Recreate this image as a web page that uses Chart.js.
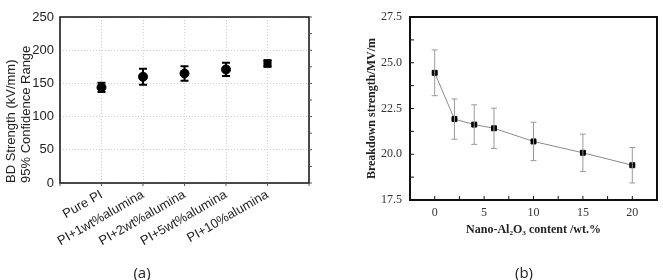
<!DOCTYPE html>
<html>
<head>
<meta charset="utf-8">
<script src="https://cdn.jsdelivr.net/npm/chart.js@4/dist/chart.umd.min.js"></script>
<style>
  html, body { margin: 0; padding: 0; background: #fff; }
  #wrap { position: relative; width: 663px; height: 280px; overflow: hidden; }
  canvas { position: absolute; top: 0; }
  #ca { left: 0; }
  #cb { left: 330px; }
  .cap { position: absolute; top: 262px; font: 15px "Open Sans", "Liberation Sans", sans-serif; color: #222; transform: translateX(-50%); }
</style>
</head>
<body>
<div id="wrap">
  <canvas id="ca" width="330" height="280"></canvas>
  <canvas id="cb" width="333" height="280"></canvas>
  <div class="cap" style="left:142px">(a)</div>
  <div class="cap" style="left:524px">(b)</div>
</div>
<script>
// ---------- data: panel (a) ----------
const catsA = ['Pure PI', 'PI+1wt%alumina', 'PI+2wt%alumina', 'PI+5wt%alumina', 'PI+10%alumina'];
const valsA = [144, 160, 165, 171, 180];
const errsA = [7, 12, 11, 10, 5];
const yTicksA = [0, 50, 100, 150, 200, 250];

// ---------- data: panel (b) ----------
const contentB = [0, 2, 4, 6, 10, 15, 20];
const valsB = [24.45, 21.92, 21.62, 21.42, 20.70, 20.08, 19.40];
const errsB = [1.25, 1.10, 1.08, 1.10, 1.05, 1.02, 0.97];
const xTickLabelsB = [0, 5, 10, 15, 20];
const yTickLabelsB = [17.5, 20.0, 22.5, 25.0, 27.5];

Chart.defaults.animation = false;

function errorBarPlugin(id, errs, color, width, cap) {
  return {
    id: id,
    afterDatasetsDraw(chart) {
      const ctx = chart.ctx, xs = chart.scales.x, ys = chart.scales.y;
      const data = chart.data.datasets[0].data;
      ctx.save();
      ctx.strokeStyle = color; ctx.lineWidth = width;
      data.forEach((p, i) => {
        const px = xs.getPixelForValue(p.x);
        const top = ys.getPixelForValue(p.y + errs[i]);
        const bot = ys.getPixelForValue(p.y - errs[i]);
        ctx.beginPath();
        ctx.moveTo(px, top); ctx.lineTo(px, bot);
        ctx.moveTo(px - cap, top); ctx.lineTo(px + cap, top);
        ctx.moveTo(px - cap, bot); ctx.lineTo(px + cap, bot);
        ctx.stroke();
      });
      ctx.restore();
    }
  };
}

function frameTicksPlugin(id, lw, tickLen, extra) {
  return {
    id: id,
    afterDraw(chart) {
      const ctx = chart.ctx, a = chart.chartArea;
      ctx.save();
      ctx.strokeStyle = '#111';
      ctx.lineWidth = lw;
      ctx.strokeRect(a.left, a.top, a.right - a.left, a.bottom - a.top);
      if (tickLen) {
        ctx.lineWidth = 1;
        ctx.beginPath();
        chart.scales.x.ticks.forEach(t => {
          const px = chart.scales.x.getPixelForValue(t.value);
          ctx.moveTo(px, a.bottom); ctx.lineTo(px, a.bottom - tickLen);
        });
        chart.scales.y.ticks.forEach(t => {
          const py = chart.scales.y.getPixelForValue(t.value);
          ctx.moveTo(a.left, py); ctx.lineTo(a.left + tickLen, py);
        });
        ctx.stroke();
      }
      if (extra) extra(chart, ctx, a);
      ctx.restore();
    }
  };
}

// ---------- panel (a) ----------
new Chart(document.getElementById('ca'), {
  type: 'scatter',
  data: {
    datasets: [{
      data: valsA.map((v, i) => ({ x: i + 1, y: v })),
      backgroundColor: '#000',
      borderColor: '#000',
      pointStyle: catsA.map((c, i) => i === catsA.length - 1 ? 'rect' : 'circle'),
      pointRadius: catsA.map((c, i) => i === catsA.length - 1 ? 5 : 4.5),
      showLine: false
    }]
  },
  options: {
    responsive: false,
    devicePixelRatio: 1,
    plugins: { legend: { display: false }, tooltip: { enabled: false } },
    layout: { padding: { top: 17, right: 21, left: 0, bottom: 0 } },
    scales: {
      x: {
        type: 'linear', min: 0, max: catsA.length + 1,
        afterFit(s) { s.height = 97; },
        ticks: {
          stepSize: 1, autoSkip: false, minRotation: 30, maxRotation: 30, padding: 4,
          color: '#222', font: { family: 'Liberation Sans, Arial, sans-serif', size: 13 },
          callback: v => catsA[v - 1] || ''
        },
        grid: { color: '#cfcfcf', lineWidth: 1, drawTicks: false },
        border: { display: false, dash: [1, 2] }
      },
      y: {
        min: 0, max: 250,
        afterFit(s) { s.width = 60; },
        afterBuildTicks(s) { s.ticks = yTicksA.map(v => ({ value: v })); },
        ticks: {
          padding: 6, color: '#222', font: { family: 'Liberation Sans, Arial, sans-serif', size: 13 }
        },
        grid: { color: '#cfcfcf', lineWidth: 1, drawTicks: false },
        border: { display: false, dash: [1, 2] },
        title: {
          display: true, align: 'start',
          text: ['BD Strength (kV/mm)', '95% Confidence Range'],
          color: '#222', font: { family: 'Liberation Sans, Arial, sans-serif', size: 13, lineHeight: 1.15 },
          padding: { top: 4, bottom: 0 }
        }
      }
    }
  },
  plugins: [
    errorBarPlugin('errA', errsA, '#000', 2, 4),
    frameTicksPlugin('frameA', 1.5, 0, (chart, ctx, a) => {
      const ys = chart.scales.y, xs = chart.scales.x;
      ctx.lineWidth = 1;
      ctx.strokeStyle = '#555';
      ctx.beginPath();
      for (let v = 0; v <= 250; v += 25) {
        const py = ys.getPixelForValue(v);
        ctx.moveTo(a.right, py); ctx.lineTo(a.right + 3, py);
      }
      xs.ticks.forEach(t => {
        const px = xs.getPixelForValue(t.value);
        ctx.moveTo(px, a.bottom); ctx.lineTo(px, a.bottom + 3);
      });
      ctx.stroke();
    })
  ]
});

// ---------- panel (b) ----------
const serif = 'Liberation Serif, "Times New Roman", serif';
new Chart(document.getElementById('cb'), {
  type: 'scatter',
  data: {
    datasets: [{
      data: contentB.map((c, i) => ({ x: c, y: valsB[i] })),
      showLine: true,
      borderColor: '#8a8a8a',
      borderWidth: 1,
      backgroundColor: '#000',
      pointBorderColor: '#000',
      pointStyle: 'rect',
      pointRadius: 3.5
    }]
  },
  options: {
    responsive: false,
    devicePixelRatio: 1,
    plugins: { legend: { display: false }, tooltip: { enabled: false } },
    layout: { padding: { top: 17, right: 3, left: 0, bottom: 40 } },
    scales: {
      x: {
        type: 'linear', min: -2.5, max: 22.5,
        afterFit(s) { s.height = 40; },
        ticks: {
          stepSize: 2.5, autoSkip: false, maxRotation: 0, padding: 6,
          color: '#333', font: { family: serif, size: 12 },
          callback: v => xTickLabelsB.includes(v) ? String(v) : ''
        },
        grid: { display: false, drawTicks: false },
        border: { display: false },
        title: {
          display: true, text: 'Nano-Al₂O₃ content /wt.%',
          color: '#222', font: { family: serif, size: 12, weight: 'bold' },
          padding: { top: 0, bottom: 3 }
        }
      },
      y: {
        min: 17.5, max: 27.5,
        afterFit(s) { s.width = 80; },
        ticks: {
          stepSize: 1.25, autoSkip: false, padding: 8,
          color: '#333', font: { family: serif, size: 12 },
          callback: v => yTickLabelsB.includes(v) ? v.toFixed(1) : ''
        },
        grid: { display: false, drawTicks: false },
        border: { display: false },
        title: {
          display: true, text: 'Breakdown strength/MV/m',
          color: '#222', font: { family: serif, size: 12, weight: 'bold' },
          padding: { top: 35, bottom: 0 }
        }
      }
    }
  },
  plugins: [
    errorBarPlugin('errB', errsB, '#9a9a9a', 1, 3),
    frameTicksPlugin('frameB', 2, 4, null)
  ]
});
</script>
</body>
</html>
